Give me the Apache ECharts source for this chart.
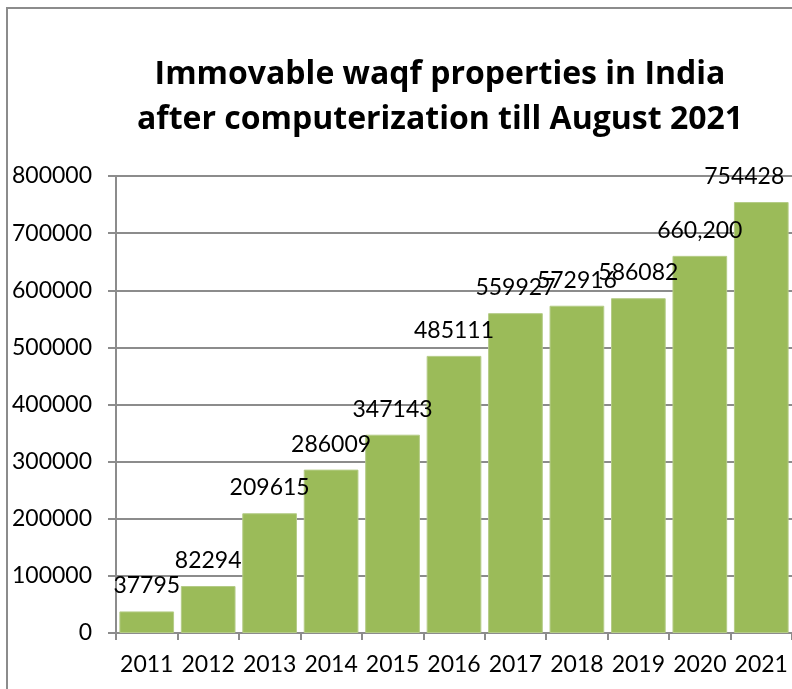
<!DOCTYPE html>
<html>
<head>
<meta charset="utf-8">
<script src="https://cdn.jsdelivr.net/npm/echarts@6/dist/echarts.min.js"></script>
<style>
  html, body { margin: 0; padding: 0; background: #fff; overflow: hidden; }
  .frame {
    position: absolute; left: 6px; top: 7px; width: 900px; height: 800px;
    border: 2px solid #8c8c8c; box-sizing: border-box;
  }
  .chart { position: absolute; left: 0; top: 0; width: 792px; height: 689px; }
</style>
</head>
<body>
<div class="frame"></div>
<div class="chart" id="chart"></div>
<script>
const years = ['2011', '2012', '2013', '2014', '2015', '2016', '2017', '2018', '2019', '2020', '2021']
const properties = [37795, 82294, 209615, 286009, 347143, 485111, 559927, 572916, 586082, 660200, 754428]
const valueLabels = ['37795', '82294', '209615', '286009', '347143', '485111', '559927', '572916', '586082', '660,200', '754428']
const titleLines = ['Immovable waqf properties in India', 'after computerization till August 2021']

const font = 'Lato, "Open Sans", sans-serif'
const titleFont = '"Open Sans", Lato, sans-serif'
const gridColor = '#8c8c8c'

const myChart = echarts.init(document.getElementById('chart'))

const option = {
  animation: false,
  graphic: [
    {
      type: 'text',
      x: 440,
      y: 52,
      style: {
        text: titleLines.join('\n'),
        textAlign: 'center',
        textVerticalAlign: 'top',
        font: 'bold 32px ' + titleFont,
        lineHeight: 45,
        fill: '#000'
      }
    }
  ],
  grid: {
    left: 116,
    top: 176,
    right: -3,
    bottom: 56,
    containLabel: false
  },
  xAxis: {
    type: 'category',
    data: years,
    axisLine: { show: true, lineStyle: { color: gridColor, width: 2 } },
    axisTick: { show: true, length: 7, alignWithLabel: false, lineStyle: { color: gridColor, width: 2 } },
    axisLabel: {
      color: '#000',
      fontFamily: font,
      fontSize: 23,
      margin: 20,
      interval: 0
    }
  },
  yAxis: {
    type: 'value',
    min: 0,
    max: 800000,
    interval: 100000,
    axisLine: { show: true, lineStyle: { color: gridColor, width: 2 } },
    axisTick: { show: true, length: 8, inside: false, lineStyle: { color: gridColor, width: 2 } },
    axisLabel: {
      color: '#000',
      fontFamily: font,
      fontSize: 23,
      margin: 24,
      formatter: (value) => String(value)
    },
    splitLine: {
      show: true,
      lineStyle: { color: gridColor, width: 2 }
    }
  },
  series: [
    {
      type: 'bar',
      data: properties.map((v, i) => {
        const item = { value: v }
        if (i === properties.length - 1) {
          item.label = { offset: [-17, 0] }
        }
        return item
      }),
      barCategoryGap: '11%',
      itemStyle: {
        color: '#9bbb59',
        borderColor: '#b5cc87',
        borderWidth: 1
      },
      label: {
        show: true,
        position: 'top',
        distance: 14,
        color: '#000',
        fontFamily: font,
        fontSize: 23,
        formatter: (p) => valueLabels[p.dataIndex]
      }
    }
  ]
}

myChart.setOption(option)
</script>
</body>
</html>
